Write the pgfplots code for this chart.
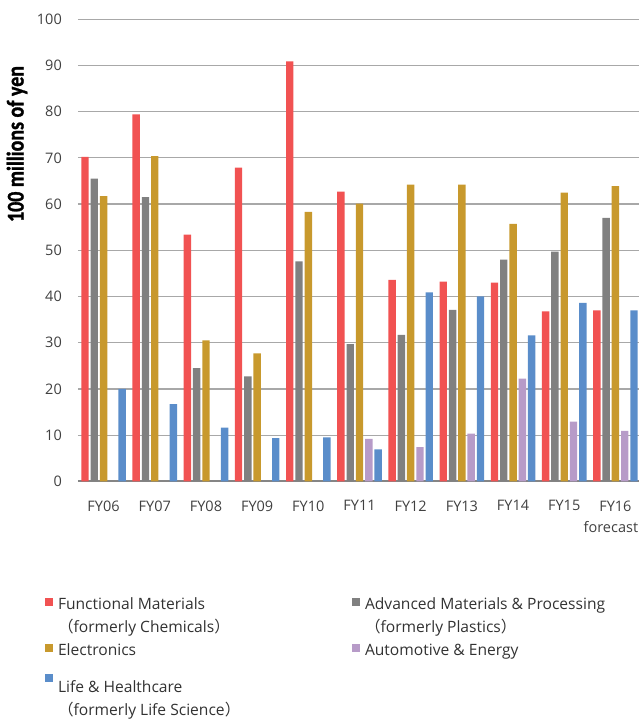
\documentclass[border=0pt]{standalone}
\usepackage{fontspec}
\setmainfont{Open Sans}
\newfontfamily\jp{Noto Sans CJK JP}
\newfontfamily\lab[FakeStretch=0.83, BoldFeatures={FakeBold=1.2}]{Carlito}
\usepackage{pgfplots}
\pgfplotsset{compat=1.18}
\definecolor{cred}{RGB}{241,82,82}
\definecolor{cgray}{RGB}{128,128,128}
\definecolor{cgold}{RGB}{200,153,45}
\definecolor{cpurp}{RGB}{183,155,200}
\definecolor{cblue}{RGB}{90,141,202}
\definecolor{gridgray}{RGB}{168,168,168}
\definecolor{axgray}{RGB}{133,133,133}
\definecolor{tickc}{RGB}{64,64,64}
\definecolor{legc}{RGB}{50,50,50}
\newcommand\rs{\rule[-6pt]{0pt}{22.5pt}}
\newcommand\rsl{\rule{0pt}{16.5pt}}
\newcommand\rsb{\rule[-6pt]{0pt}{37pt}}
\pgfplotsset{sq/.style={legend image code/.code={\fill[##1] (0pt,-4pt) rectangle (8pt,4pt);}}}
\begin{document}
\begin{tikzpicture}
\begin{axis}[name=ax, scale only axis, width=563pt, height=462pt,
  ymin=0, ymax=100, xmin=-0.5, xmax=10.5,
  ybar, bar width=7.4pt,
  xtick={0,...,10},
  xticklabels={FY06,FY07,FY08,FY09,FY10,FY11,FY12,FY13,FY14,FY15,{FY16\\forecast\hbox to 9pt{}}},
  ytick={0,10,...,100},
  ymajorgrids, grid style={color=gridgray, line width=1.2pt},
  axis x line*=bottom, axis y line*=left,
  x axis line style={color=axgray, line width=2pt, -},
  y axis line style={draw=none},
  major tick length=0pt,
  /pgf/number format/assume math mode=true,
  tick label style={font=\fontsize{14.5}{21}\selectfont, text=tickc},
  yticklabel style={inner sep=0pt, xshift=-16pt},
  xticklabel style={inner sep=0pt, yshift=-19pt, align=center},
  ylabel={100 millions of yen},
  ylabel style={at={(axis description cs:-0.1083,0.73)}, anchor=center, font=\lab\bfseries\fontsize{24}{28}\selectfont, text=black},
  legend columns=2,
  legend cell align=left,
  legend style={at={(axis description cs:-0.0586,-0.2408)}, anchor=north west, draw=none, fill=none,
    inner sep=0pt, outer sep=0pt, row sep=5pt, font=\fontsize{15.6}{18}\selectfont, text=legc,
    nodes={inner sep=0pt},
    /tikz/every odd column/.append style={column sep=5pt},
    /tikz/every even column/.append style={column sep=0pt}},
]
\addplot[forget plot, fill=cred, draw=none, bar shift=-18.6pt] coordinates {
(0,70.2) (1,79.4) (2,53.4) (3,67.9) (4,90.9) (5,62.7) (6,43.6) (7,43.2) (8,43.0) (9,36.8) (10,37.0)};
\addplot[forget plot, fill=cgray, draw=none, bar shift=-9.3pt] coordinates {
(0,65.5) (1,61.5) (2,24.5) (3,22.7) (4,47.6) (5,29.7) (6,31.7) (7,37.1) (8,48.0) (9,49.7) (10,57.0)};
\addplot[forget plot, fill=cgold, draw=none, bar shift=0pt] coordinates {
(0,61.7) (1,70.4) (2,30.5) (3,27.7) (4,58.3) (5,60.1) (6,64.2) (7,64.2) (8,55.7) (9,62.5) (10,63.9)};
\addplot[forget plot, fill=cpurp, draw=none, bar shift=9.3pt] coordinates {
(5,9.2) (6,7.4) (7,10.3) (8,22.2) (9,12.9) (10,10.9)};
\addplot[forget plot, fill=cblue, draw=none, bar shift=18.6pt] coordinates {
(0,20.0) (1,16.7) (2,11.6) (3,9.35) (4,9.5) (5,6.9) (6,40.9) (7,40.0) (8,31.6) (9,38.6) (10,37.0)};
\addlegendimage{sq, fill=cred, draw=none}
\addlegendimage{sq, fill=cgray, draw=none}
\addlegendimage{empty legend}
\addlegendimage{empty legend}
\addlegendimage{sq, fill=cgold, draw=none}
\addlegendimage{sq, fill=cpurp, draw=none}
\addlegendimage{sq, fill=cblue, draw=none}
\addlegendimage{empty legend}
\addlegendimage{empty legend}
\legend{{\rs\makebox[294pt][l]{Functional Materials}},
{\rs Advanced Materials \& Processing},
{\rs\makebox[294pt][l]{{\jp（}formerly Chemicals{\jp）}}},
{\rs{\jp（}formerly Plastics{\jp）}},
{\rs\makebox[294pt][l]{Electronics}},
{\rs Automotive \& Energy},
{\rsb\makebox[294pt][l]{Life \& Healthcare}},
{\rsb},
{\rsl{\jp（}formerly Life Science{\jp）}}}
\end{axis}
\pgfresetboundingbox
\path (ax.south west) ++(-78pt,-240.7pt) rectangle ++(639pt,722pt);
\end{tikzpicture}
\end{document}
